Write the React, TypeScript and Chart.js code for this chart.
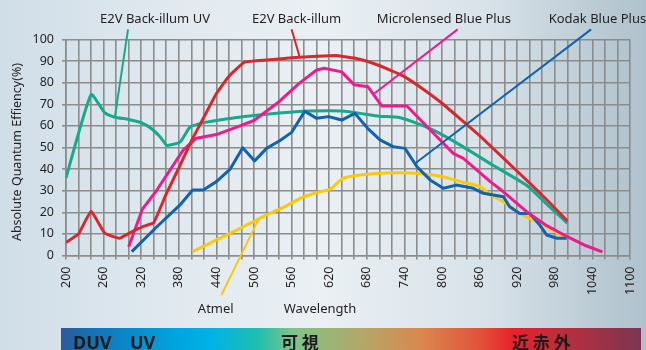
import React, { useEffect, useRef } from "react";
import { Chart, registerables } from "chart.js";

Chart.register(...registerables);

// E2V Back-illum UV
const e2vUvNm = [200, 240, 262, 278, 300, 320, 335, 350, 361, 382, 398, 420, 440, 470, 500, 540, 580, 620, 645, 670, 700, 730, 760, 790, 830, 880, 935, 970, 1000];
const e2vUvQe = [36, 74.5, 66, 64, 63, 61.5, 59, 55, 51, 52.5, 59.5, 61.5, 62.5, 63.8, 64.8, 66, 66.8, 67, 66.8, 65.8, 64.5, 64, 61.2, 57.5, 51, 42, 32.5, 23, 15];

// E2V Back-illum
const e2vNm = [200, 220, 240, 262, 285, 305, 322, 340, 360, 380, 400, 420, 440, 460, 485, 520, 560, 600, 630, 660, 690, 720, 740, 770, 800, 830, 860, 900, 940, 970, 1000];
const e2vQe = [6, 10, 20.5, 10.3, 8, 11, 13.3, 15.2, 28.5, 40.5, 53, 64, 75, 83, 89.5, 90.5, 91.5, 92.2, 92.6, 91.4, 89, 85.5, 82.8, 77, 70.5, 63, 55.5, 44.5, 33.5, 25, 16];

// Microlensed Blue Plus
const microNm = [300, 322, 345, 366, 387, 408, 440, 468, 500, 540, 572, 600, 612, 640, 660, 682, 704, 744, 797, 818, 834, 877, 898, 935, 965, 1000, 1030, 1056];
const microQe = [4, 21.5, 30.3, 39.6, 48.8, 54.3, 56, 59, 62.5, 71.2, 79.7, 85.9, 86.7, 85, 79, 78.1, 69.2, 69.2, 53.5, 47.3, 45, 34.2, 29.5, 20.3, 14.2, 8.7, 4.5, 1.7];

// Kodak Blue Plus
const kodakNm = [305, 345, 382, 402, 419, 440, 462, 482, 501, 520, 541, 560, 581, 600, 619, 640, 661, 681, 701, 722, 741, 760, 781, 802, 823, 850, 866, 898, 908, 924, 940, 956, 967, 983, 999];
const kodakQe = [1.8, 13.3, 23.4, 30.3, 30.3, 34.2, 40, 49.9, 43.8, 49.6, 53.1, 57, 66.8, 63.5, 64.3, 62.7, 65.8, 59, 53.5, 50.4, 49.6, 41.1, 35, 31.1, 32.6, 31.1, 28.8, 27.2, 22.6, 19.5, 19.5, 14.1, 9.5, 8, 8];

// Atmel
const atmelNm = [402, 440, 478, 504, 520, 547, 579, 605, 621, 642, 669, 720, 765, 802, 832, 861, 878, 898, 924, 962, 994];
const atmelQe = [1.8, 7.2, 12.6, 16.4, 18.8, 22.3, 27.2, 29.5, 30.6, 35.7, 37.3, 38.3, 38, 36.5, 34, 31.9, 28, 24.9, 19.5, 14.1, 8.7];

// Axis ranges and tick spacing
const xMin = 200;
const xMax = 1100;
const xStep = 20;
const xLabelEvery = 60;
const yMin = 0;
const yMax = 100;
const yStep = 10;

const COLORS = {
  teal: "#17a98c",
  red: "#d7282f",
  pink: "#ec1c8c",
  blue: "#1263ae",
  yellow: "#fcc80a",
  text: "#231f20",
  grid: "#8c8c8c",
};

// Series callouts: label anchor and leader line, in (nm, %) units
const callouts = [
  { text: "E2V Back-illum UV", color: COLORS.teal, at: [342, 109.5], from: [299, 104.7], to: [278, 64.2] },
  { text: "E2V Back-illum", color: COLORS.red, at: [568, 109.5], from: [560, 104.7], to: [573, 91.8] },
  { text: "Microlensed Blue Plus", color: COLORS.pink, at: [803, 109.5], from: [825, 104.7], to: [692, 75] },
  { text: "Kodak Blue Plus", color: COLORS.blue, at: [1048, 109.5], from: [1038, 104.7], to: [757, 42.6] },
  { text: "Atmel", color: COLORS.yellow, at: [439, -24.8], from: [448, -18.3], to: [507, 16.6] },
];

const FONT = '"Noto Sans", "DejaVu Sans", sans-serif';
const CJK = '"Noto Sans CJK JP", "Noto Sans CJK SC", sans-serif';

const toPoints = (xs: number[], ys: number[]) => xs.map((x, i) => ({ x, y: ys[i] }));

const decorPlugin = {
  id: "decor",
  afterDatasetsDraw(chart: any) {
    const { ctx, scales } = chart;
    const sx = scales.x;
    const sy = scales.y;
    ctx.save();
    // leader lines and series names
    callouts.forEach((c) => {
      ctx.strokeStyle = c.color;
      ctx.lineWidth = 2;
      ctx.beginPath();
      ctx.moveTo(sx.getPixelForValue(c.from[0]), sy.getPixelForValue(c.from[1]));
      ctx.lineTo(sx.getPixelForValue(c.to[0]), sy.getPixelForValue(c.to[1]));
      ctx.stroke();
      ctx.fillStyle = COLORS.text;
      ctx.font = `13px ${FONT}`;
      ctx.textAlign = "center";
      ctx.textBaseline = "middle";
      ctx.fillText(c.text, sx.getPixelForValue(c.at[0]), sy.getPixelForValue(c.at[1]));
    });

    // axis titles
    ctx.fillStyle = COLORS.text;
    ctx.font = `13px ${FONT}`;
    ctx.textAlign = "center";
    ctx.textBaseline = "middle";
    ctx.fillText("Wavelength", 320, 309);
    ctx.save();
    ctx.translate(17.5, 152);
    ctx.rotate(-Math.PI / 2);
    ctx.font = `12.5px ${FONT}`;
    ctx.fillText("Absolute Quantum Effiency(%)", 0, 0);
    ctx.restore();

    // spectrum band
    const bx = 61;
    const bw = 580;
    const by = 328;
    const bh = 22;
    const g = ctx.createLinearGradient(bx, 0, bx + bw, 0);
    g.addColorStop(0, "#2b5a98");
    g.addColorStop(0.07, "#1079bd");
    g.addColorStop(0.2, "#00a5df");
    g.addColorStop(0.26, "#00b2e6");
    g.addColorStop(0.34, "#1fbfae");
    g.addColorStop(0.4, "#7fc48a");
    g.addColorStop(0.52, "#b3a767");
    g.addColorStop(0.62, "#d9884f");
    g.addColorStop(0.72, "#e1543a");
    g.addColorStop(0.78, "#e8212b");
    g.addColorStop(0.88, "#b42f3f");
    g.addColorStop(1, "#7b3652");
    ctx.fillStyle = g;
    ctx.fillRect(bx, by, bw, bh);

    ctx.fillStyle = "#1c1c1c";
    ctx.textAlign = "left";
    ctx.textBaseline = "alphabetic";
    ctx.font = `bold 18px ${FONT}`;
    ctx.fillText("DUV", 73, 349);
    ctx.fillText("UV", 130, 349);
    ctx.font = `bold 17px ${CJK}`;
    ctx.fillText("可 視", 281, 349);
    ctx.fillText("近 赤 外", 512, 349);
    ctx.restore();
  },
};

export default function App() {
  const canvasRef = useRef<HTMLCanvasElement>(null);

  useEffect(() => {
    document.body.style.margin = "0";
    const canvas = canvasRef.current;
    if (!canvas) return;

    const line = (data: { x: number; y: number }[], color: string, tension: number) => ({
      data,
      borderColor: color,
      backgroundColor: color,
      borderWidth: 3,
      pointRadius: 0,
      tension,
      fill: false,
      borderJoinStyle: "round" as const,
    });

    const chart = new Chart(canvas, {
      type: "line",
      data: {
        datasets: [
          { label: "E2V Back-illum", ...line(toPoints(e2vNm, e2vQe), COLORS.red, 0.1) },
          { label: "Microlensed Blue Plus", ...line(toPoints(microNm, microQe), COLORS.pink, 0) },
          { label: "Kodak Blue Plus", ...line(toPoints(kodakNm, kodakQe), COLORS.blue, 0) },
          { label: "E2V Back-illum UV", ...line(toPoints(e2vUvNm, e2vUvQe), COLORS.teal, 0.15) },
          { label: "Atmel", ...line(toPoints(atmelNm, atmelQe), COLORS.yellow, 0.2) },
        ],
      },
      options: {
        responsive: false,
        animation: false,
        devicePixelRatio: 1,
        layout: { padding: { top: 39.5, right: 16, bottom: 54.5, left: 0 } },
        plugins: { legend: { display: false }, tooltip: { enabled: false } },
        scales: {
          x: {
            type: "linear",
            min: xMin,
            max: xMax,
            afterFit: (scale: any) => {
              scale.height = 40;
              scale.paddingLeft = 0;
              scale.paddingRight = 0;
            },
            ticks: {
              stepSize: xStep,
              autoSkip: false,
              minRotation: 90,
              maxRotation: 90,
              padding: 7,
              color: COLORS.text,
              font: { family: FONT, size: 12.5 },
              callback: (v: any) => ((Number(v) - xMin) % xLabelEvery === 0 ? String(v) : ""),
            },
            grid: { color: COLORS.grid, lineWidth: 1.6, tickLength: 4 },
            border: { color: COLORS.grid, width: 1.6 },
          },
          y: {
            min: yMin,
            max: yMax,
            afterFit: (scale: any) => {
              scale.width = 66;
              scale.paddingTop = 0;
              scale.paddingBottom = 0;
            },
            ticks: {
              stepSize: yStep,
              padding: 8,
              color: COLORS.text,
              font: { family: FONT, size: 12.5 },
            },
            grid: { color: COLORS.grid, lineWidth: 1.6, tickLength: 4 },
            border: { color: COLORS.grid, width: 1.6 },
          },
        },
      },
      plugins: [decorPlugin],
    });

    return () => chart.destroy();
  }, []);

  return (
    <div
      style={{
        width: 646,
        height: 350,
        position: "relative",
        background:
          "linear-gradient(90deg, #d0dee8 0%, #e2eaf0 30%, #eaf0f4 50%, #d8e2e9 75%, #aec1cc 100%)",
      }}
    >
      <canvas ref={canvasRef} width={646} height={350} style={{ display: "block" }} />
    </div>
  );
}
